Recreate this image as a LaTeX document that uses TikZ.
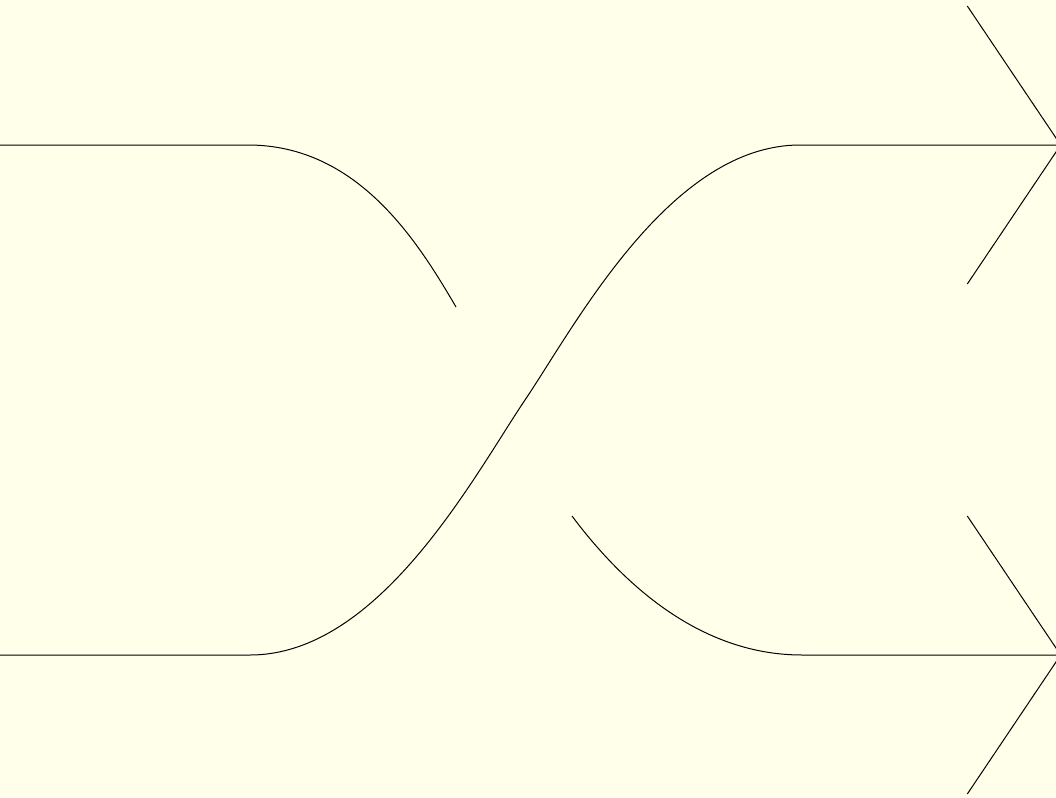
\documentclass[tikz,border=0pt]{standalone}
\usepackage{amsmath,amssymb}
\definecolor{paper}{RGB}{255,255,234}

\begin{document}
\begin{tikzpicture}[
  x=0.5pt, y=-0.5pt,
  strand/.style={draw=black, line width=0.5pt},
  tip/.style={strand, line join=miter}
]
  \clip (0,0) rectangle (1056,798);
  \fill[paper] (0,0) rectangle (1056,798);

  % strand ends
  \coordinate (inA)  at (-10, 145);
  \coordinate (inB)  at (-10, 655);
  \coordinate (outA) at (1061, 145);
  \coordinate (outB) at (1061, 655);

  % over strand (bottom left to top right)
  \coordinate (capL) at (250, 655);
  \coordinate (mid)  at (525, 400);
  \coordinate (capR) at (800, 145);
  \draw[strand] (inB) -- (capL) .. controls (380,655) and (474.7,474.6) .. (mid)
                .. controls (575.3,325.4) and (670,145) .. (capR) -- (outA);

  % under strand, broken at the crossing
  \coordinate (capA) at (248, 145);
  \coordinate (gapA) at (456, 307);
  \coordinate (gapB) at (572, 516);
  \coordinate (capB) at (802, 655);
  \draw[strand] (inA) -- (capA) .. controls (358,145) and (418,242) .. (gapA);
  \draw[strand] (gapB) .. controls (614,572) and (692,655) .. (capB) -- (outB);

  % arrow heads
  \coordinate (tipA) at (1060.7, 145);
  \coordinate (tipB) at (1060.7, 655);
  \draw[tip] (967.3, 6) -- (tipA) -- (967.3, 284);
  \draw[tip] (967.3, 516) -- (tipB) -- (967.3, 794);
\end{tikzpicture}
\end{document}
